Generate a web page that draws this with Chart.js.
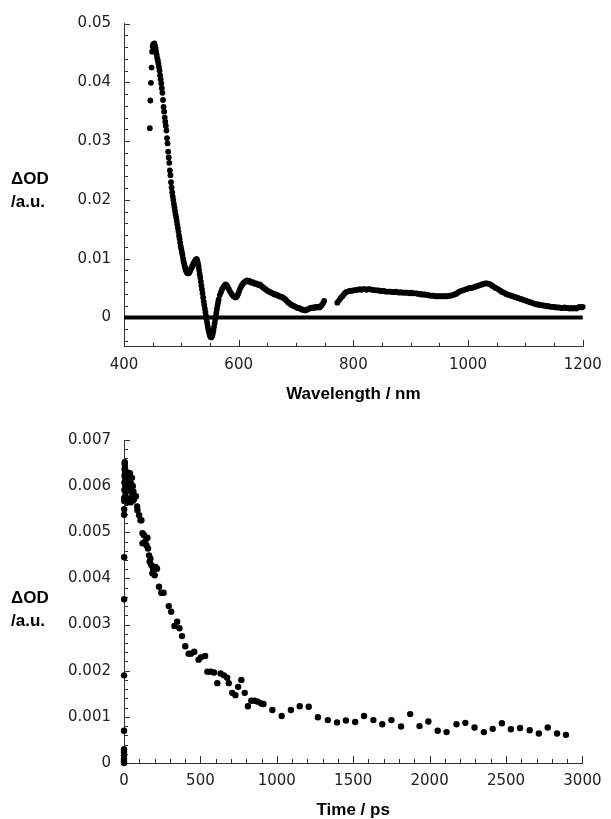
<!DOCTYPE html>
<html><head><meta charset="utf-8">
<script src="https://cdn.jsdelivr.net/npm/chart.js@4/dist/chart.umd.min.js"></script>
<style>
html,body{margin:0;padding:0;background:#fff;}
#wrap{position:relative;width:611px;height:819px;overflow:hidden;background:#fff;}
canvas{position:absolute;left:0;}
.lab{position:absolute;left:11px;font:bold 17px "Liberation Sans",Arial,sans-serif;line-height:20px;color:#000;white-space:nowrap;}
</style></head><body>
<div id="wrap">
<canvas id="c1" width="611" height="410" style="top:0;width:611px;height:410px"></canvas>
<canvas id="c2" width="611" height="409" style="top:410px;width:611px;height:409px"></canvas>
<div class="lab" style="top:169px">ΔOD</div>
<div class="lab" style="top:192px">/a.u.</div>
<div class="lab" style="top:588px">ΔOD</div>
<div class="lab" style="top:611px">/a.u.</div>
</div>
<script>
// ---------- Transient spectrum (top) ----------
const specA = [[445,0.0322],[446,0.0369],[447,0.0399],[448,0.0425],[449,0.0452],[450,0.0461],[451,0.0465],[452,0.0463],[453,0.0466],[454,0.0462],[455,0.0458],[456,0.0452],[457,0.0447],[458,0.0441],[459,0.0437],[460,0.0432],[461,0.0426],[462,0.0420],[463,0.0412],[464,0.0405],[465,0.0398],[466,0.0390],[467,0.0382],[468,0.0370],[469,0.0358],[470,0.0350],[471,0.0340],[472,0.0333],[473,0.0326],[474,0.0318],[475,0.0305],[476,0.0296],[477,0.0282],[478,0.0272],[479,0.0263],[480,0.0250],[481,0.0242],[482,0.0230],[483,0.0221],[484,0.0213],[485,0.0206],[486,0.0200],[487,0.0193],[488,0.0187],[489,0.0181],[490,0.0175],[491,0.0170],[492,0.0164],[493,0.0158],[494,0.0152],[495,0.0146],[496,0.0139],[497,0.0134],[498,0.0127],[499,0.0121],[500,0.0116],[501,0.0111],[502,0.0106],[503,0.0100],[504,0.0095],[505,0.0091],[506,0.0087],[507,0.0083],[508,0.0080],[509,0.0078],[510,0.0076],[511,0.0075],[512,0.0076],[513,0.0075],[514,0.0077],[515,0.0079],[516,0.0081],[517,0.0083],[518,0.0085],[519,0.0087],[520,0.0089],[521,0.0091],[522,0.0093],[523,0.0095],[524,0.0096],[525,0.0098],[526,0.0099],[527,0.0099],[528,0.0096],[529,0.0092],[530,0.0087],[531,0.0081],[532,0.0074],[533,0.0068],[534,0.0061],[535,0.0054],[536,0.0048],[537,0.0041],[538,0.0034],[539,0.0027],[540,0.0021],[541,0.0015],[542,0.0009],[543,0.0003],[544,-0.0003],[545,-0.0009],[546,-0.0015],[547,-0.0020],[548,-0.0025],[549,-0.0028],[550,-0.0031],[551,-0.0033],[552,-0.0034],[553,-0.0033],[554,-0.0031],[555,-0.0027],[556,-0.0022],[557,-0.0016],[558,-0.0010],[559,-0.0004],[560,0.0002],[561,0.0008],[562,0.0014],[563,0.0020],[564,0.0025],[565,0.0030]];
const specB = [[567,0.0038],[569,0.0043],[571,0.0048],[573,0.0051],[575,0.0054],[577,0.0056],[579,0.0055],[581,0.0052],[583,0.0048],[585,0.0044],[587,0.0041],[589,0.0038],[591,0.0036],[593,0.0035],[595,0.0034],[597,0.0036],[599,0.0040],[601,0.0045],[603,0.0050],[605,0.0054],[607,0.0057],[609,0.0059],[611,0.0061],[613,0.0062],[615,0.0063],[617,0.0061],[619,0.0062],[621,0.0060],[623,0.0059],[625,0.0060],[627,0.0058],[629,0.0057],[631,0.0058],[633,0.0056],[635,0.0055],[637,0.0056],[639,0.0054],[641,0.0052],[643,0.0051],[645,0.0049],[647,0.0048],[649,0.0046],[651,0.0045],[653,0.0044],[655,0.0043],[657,0.0042],[659,0.0041],[661,0.0040],[663,0.0039],[665,0.0039],[667,0.0038],[669,0.0037],[671,0.0036],[673,0.0035],[675,0.0035],[677,0.0034],[679,0.0032],[681,0.0031],[683,0.0029],[685,0.0027],[687,0.0025],[689,0.0024],[691,0.0022],[693,0.0021],[695,0.0020],[697,0.0019],[699,0.0018],[701,0.0017],[703,0.0016],[705,0.0016],[707,0.0015],[709,0.0014],[711,0.0013],[713,0.0013],[715,0.0012],[717,0.0012],[719,0.0013],[721,0.0014],[723,0.0015],[725,0.0016],[727,0.0016],[729,0.0017],[731,0.0016],[733,0.0017],[735,0.0018],[737,0.0017],[739,0.0018],[741,0.0017],[743,0.0019],[745,0.0021],[747,0.0024],[749,0.0028]];
const specC = [[772,0.0025],[775,0.0029],[778,0.0033],[781,0.0036],[784,0.0040],[787,0.0043],[790,0.0044],[793,0.0045],[796,0.0045],[799,0.0046],[802,0.0046],[805,0.0047],[808,0.0047],[811,0.0048],[814,0.0047],[817,0.0048],[820,0.0048],[823,0.0047],[826,0.0048],[829,0.0048],[832,0.0047],[835,0.0047],[838,0.0046],[841,0.0046],[844,0.0046],[847,0.0045],[850,0.0045],[853,0.0045],[856,0.0044],[859,0.0044],[862,0.0044],[865,0.0044],[868,0.0043],[871,0.0043],[874,0.0044],[877,0.0043],[880,0.0042],[883,0.0043],[886,0.0042],[889,0.0042],[892,0.0042],[895,0.0042],[898,0.0041],[901,0.0042],[904,0.0041],[907,0.0041],[910,0.0041],[913,0.0040],[916,0.0040],[919,0.0039],[922,0.0039],[925,0.0039],[928,0.0038],[931,0.0038],[934,0.0037],[937,0.0037],[940,0.0037],[943,0.0036],[946,0.0036],[949,0.0036],[952,0.0036],[955,0.0036],[958,0.0036],[961,0.0036],[964,0.0036],[967,0.0037],[970,0.0037],[973,0.0038],[976,0.0039],[979,0.0040],[982,0.0042],[985,0.0044],[988,0.0045],[991,0.0046],[994,0.0047],[997,0.0048],[1000,0.0049],[1003,0.0050],[1006,0.0050],[1009,0.0051],[1012,0.0052],[1015,0.0053],[1018,0.0054],[1021,0.0055],[1024,0.0056],[1027,0.0057],[1030,0.0058],[1033,0.0058],[1036,0.0057],[1039,0.0056],[1042,0.0054],[1045,0.0052],[1048,0.0050],[1051,0.0049],[1054,0.0047],[1057,0.0045],[1060,0.0043],[1063,0.0042],[1066,0.0040],[1069,0.0039],[1072,0.0038],[1075,0.0037],[1078,0.0036],[1081,0.0035],[1084,0.0034],[1087,0.0033],[1090,0.0032],[1093,0.0031],[1096,0.0030],[1099,0.0029],[1102,0.0028],[1105,0.0027],[1108,0.0026],[1111,0.0025],[1114,0.0024],[1117,0.0023],[1120,0.0022],[1123,0.0022],[1126,0.0021],[1129,0.0021],[1132,0.0020],[1135,0.0020],[1138,0.0019],[1141,0.0019],[1144,0.0018],[1147,0.0018],[1150,0.0018],[1153,0.0017],[1156,0.0017],[1159,0.0017],[1162,0.0016],[1165,0.0016],[1168,0.0017],[1171,0.0016],[1174,0.0016],[1177,0.0015],[1180,0.0016],[1183,0.0015],[1186,0.0016],[1189,0.0015],[1192,0.0017],[1195,0.0018],[1198,0.0017],[1200,0.0018]];
const specBaseline = [[400,0],[1200,0]];
const specXTicks = [400,600,800,1000,1200];
const specXLabels = ['400','600','800','1000','1200'];
const specXMinor = [450,500,550,650,700,750,850,900,950,1050,1100,1150];
const specYTicks = [0,0.01,0.02,0.03,0.04,0.05];
const specYLabels = ['0','0.01','0.02','0.03','0.04','0.05'];
const specYMinor = [-0.004,-0.002,0.002,0.004,0.006,0.008,0.012,0.014,0.016,0.018,0.022,0.024,0.026,0.028,0.032,0.034,0.036,0.038,0.042,0.044,0.046,0.048];

// ---------- Kinetic trace (bottom) ----------
const kinRise = [[0,0],[0,0.00004],[0,0.00009],[0,0.00016],[0,0.00024],[0.2,0.0003],[0.4,0.0007],[0.6,0.0019],[0.8,0.00355],[1,0.00446],[1.2,0.00538],[1.4,0.0055],[1.6,0.00568]];
const kinEarly = [[2,0.00575],[2.5,0.00592],[3,0.00608],[3.5,0.00622],[4,0.00636],[4.5,0.00648],[5,0.00652],[6,0.00641],[7,0.00628],[8,0.00612],[9,0.00598],[10,0.00585],[11,0.00603],[12,0.00618],[13,0.00632],[15,0.00575],[16,0.00595],[18,0.00612],[20,0.00628],[22,0.0059],[24,0.00565],[26,0.00605],[28,0.00622],[30,0.00598],[33,0.00572],[36,0.00612],[39,0.00628],[42,0.00595],[45,0.00565],[48,0.00605],[52,0.00618],[55,0.00582],[58,0.006],[62,0.00588],[66,0.00572]];
const kinDecay = [[60,0.00569],[78,0.00578],[86,0.00556],[88,0.00548],[99,0.00537],[108,0.00526],[114,0.00526],[121,0.00498],[130,0.00494],[121,0.00476],[136,0.00479],[147,0.00486],[153,0.00488],[147,0.00472],[157,0.00465],[164,0.0045],[173,0.00443],[168,0.00436],[179,0.00429],[190,0.00421],[186,0.00411],[201,0.00407],[207,0.00425],[216,0.00421],[229,0.00382],[244,0.00369],[259,0.00369],[293,0.0034],[309,0.00328],[330,0.00297],[348,0.00306],[363,0.00292],[380,0.00275],[401,0.00253],[423,0.00237],[438,0.00237],[460,0.00241],[488,0.00224],[503,0.00229],[531,0.00232],[546,0.00198],[568,0.00198],[589,0.00196],[611,0.00173],[632,0.00194],[654,0.0019],[675,0.00185],[686,0.00173],[708,0.00152],[729,0.00147],[747,0.00165],[768,0.0018],[790,0.00152],[811,0.00123],[833,0.00135],[855,0.00135],[876,0.00133],[898,0.00129],[913,0.00128],[971,0.00115],[1032,0.00102],[1092,0.00115],[1150,0.00123],[1209,0.00122],[1269,0.00099],[1334,0.00093],[1394,0.00088],[1452,0.00092],[1513,0.00089],[1571,0.00102],[1632,0.00093],[1690,0.00084],[1750,0.00093],[1813,0.00079],[1873,0.00106],[1934,0.0008],[1992,0.0009],[2053,0.0007],[2111,0.00067],[2176,0.00084],[2234,0.00087],[2294,0.00077],[2355,0.00067],[2413,0.00074],[2473,0.00086],[2532,0.00073],[2592,0.00076],[2655,0.00071],[2715,0.00064],[2773,0.00077],[2834,0.00064],[2892,0.00061]];
const kinXTicks = [0,500,1000,1500,2000,2500,3000];
const kinXLabels = ['0','500','1000','1500','2000','2500','3000'];
const kinXMinor = [100,200,300,400,600,700,800,900,1100,1200,1300,1400,1600,1700,1800,1900,2100,2200,2300,2400,2600,2700,2800,2900];
const kinYTicks = [0,0.001,0.002,0.003,0.004,0.005,0.006,0.007];
const kinYLabels = ['0','0.001','0.002','0.003','0.004','0.005','0.006','0.007'];
const kinYMinor = [0.0002,0.0004,0.0006,0.0008,0.0012,0.0014,0.0016,0.0018,0.0022,0.0024,0.0026,0.0028,0.0032,0.0034,0.0036,0.0038,0.0042,0.0044,0.0046,0.0048,0.0052,0.0054,0.0056,0.0058,0.0062,0.0064,0.0066,0.0068];

const toXY = arr => arr.map(p => ({x: p[0], y: p[1]}));
const tickFont = {family: '"DejaVu Sans", sans-serif', size: 15};
const titleFont = {family: '"Liberation Sans", Arial, sans-serif', size: 17, weight: 'bold', lineHeight: 1};
const axisColor = '#333';

const innerTicks = {
  id: 'innerTicks',
  beforeDatasetsDraw(chart, args, o) {
    const {ctx, chartArea: a, scales: {x, y}} = chart;
    ctx.save();
    ctx.strokeStyle = axisColor;
    ctx.lineWidth = 1;
    ctx.beginPath();
    const tx = (v, len) => { const p = Math.round(x.getPixelForValue(v)) + 0.5; ctx.moveTo(p, a.bottom); ctx.lineTo(p, a.bottom - len); };
    const ty = (v, len) => { const p = Math.round(y.getPixelForValue(v)) + 0.5; ctx.moveTo(a.left, p); ctx.lineTo(a.left + len, p); };
    o.xMajor.forEach(v => tx(v, 7));
    o.xMinor.forEach(v => tx(v, 4));
    o.yMajor.forEach(v => ty(v, 6));
    o.yMinor.forEach(v => ty(v, 4));
    ctx.stroke();
    ctx.restore();
  }
};

function makeChart(id, cfg) {
  return new Chart(document.getElementById(id), {
    type: 'scatter',
    data: {datasets: cfg.datasets},
    options: {
      responsive: false,
      animation: false,
      events: [],
      layout: {padding: {left: 0, right: 23.7, top: cfg.top, bottom: 0}},
      plugins: {
        legend: {display: false},
        tooltip: {enabled: false},
        innerTicks: {xMajor: cfg.xTicks, xMinor: cfg.xMinor, yMajor: cfg.yTicks, yMinor: cfg.yMinor}
      },
      scales: {
        x: {
          type: 'linear', min: cfg.xMin, max: cfg.xMax,
          afterBuildTicks: s => { s.ticks = cfg.xTicks.map(v => ({value: v})); },
          ticks: {font: tickFont, color: '#222', padding: cfg.xPad, autoSkip: false, maxRotation: 0, minRotation: 0,
                  callback: (v, i) => cfg.xLabels[i]},
          grid: {display: false, drawTicks: false},
          border: {display: true, color: axisColor, width: 1},
          title: {display: true, text: cfg.xTitle, font: titleFont, color: '#000', padding: {top: 0, bottom: cfg.titlePad}},
          afterFit: s => { s.height = cfg.xHeight; }
        },
        y: {
          type: 'linear', min: cfg.yMin, max: cfg.yMax,
          afterBuildTicks: s => { s.ticks = cfg.yTicks.map(v => ({value: v})); },
          ticks: {font: tickFont, color: '#222', padding: 13, autoSkip: false,
                  callback: (v, i) => cfg.yLabels[i]},
          grid: {display: false, drawTicks: false},
          border: {display: true, color: axisColor, width: 1},
          afterFit: s => { s.width = 124; }
        }
      }
    },
    plugins: [innerTicks]
  });
}

const dotStyle = r => ({showLine: false, pointRadius: r, pointHoverRadius: r, pointBackgroundColor: '#000', pointBorderWidth: 0, borderWidth: 0, clip: false});

makeChart('c1', {
  datasets: [
    Object.assign({data: toXY(specA.concat(specB, specC))}, dotStyle(2.9)),
    {data: toXY(specBaseline), showLine: true, borderColor: '#000', borderWidth: 4, pointRadius: 0, clip: false}
  ],
  top: 23.5, xMin: 400, xMax: 1200, yMin: -0.005, yMax: 0.05,
  xTicks: specXTicks, xLabels: specXLabels, xMinor: specXMinor,
  yTicks: specYTicks, yLabels: specYLabels, yMinor: specYMinor,
  xPad: 9.2, xTitle: 'Wavelength / nm', titlePad: 7.5, xHeight: 63.2
});

makeChart('c2', {
  datasets: [
    Object.assign({data: toXY(kinRise.concat(kinEarly, kinDecay))}, dotStyle(3.2))
  ],
  top: 30, xMin: 0, xMax: 3000, yMin: 0, yMax: 0.007,
  xTicks: kinXTicks, xLabels: kinXLabels, xMinor: kinXMinor,
  yTicks: kinYTicks, yLabels: kinYLabels, yMinor: kinYMinor,
  xPad: 9.5, xTitle: 'Time / ps', titlePad: 0.5, xHeight: 56
});
</script>
</body></html>
